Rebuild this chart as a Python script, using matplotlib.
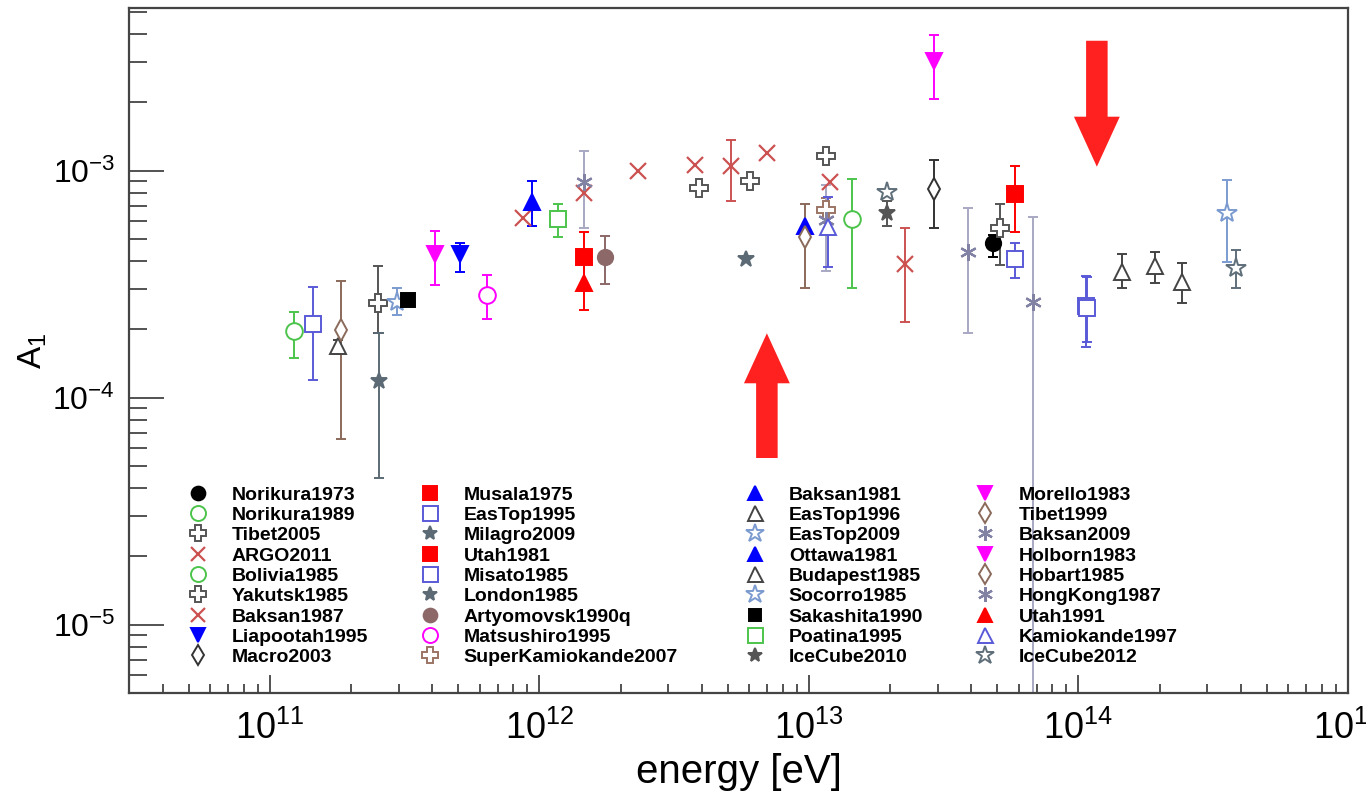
import matplotlib
matplotlib.use('Agg')
import matplotlib.pyplot as plt
from matplotlib.lines import Line2D
from matplotlib.ticker import LogLocator, NullFormatter
import numpy as np

plt.rcParams['font.family'] = ['Liberation Sans', 'DejaVu Sans']
plt.rcParams['mathtext.fontset'] = 'custom'
plt.rcParams['mathtext.rm'] = 'Liberation Sans'
plt.rcParams['mathtext.it'] = 'Liberation Sans:italic'
plt.rcParams['mathtext.bf'] = 'Liberation Sans:bold'
plt.rcParams['mathtext.default'] = 'regular'

nan = float('nan')

# ---- legend entries (column order, 4 columns x 9 rows) ----
legend_names = [
    'Norikura1973', 'Norikura1989', 'Tibet2005', 'ARGO2011', 'Bolivia1985',
    'Yakutsk1985', 'Baksan1987', 'Liapootah1995', 'Macro2003',
    'Musala1975', 'EasTop1995', 'Milagro2009', 'Utah1981', 'Misato1985',
    'London1985', 'Artyomovsk1990q', 'Matsushiro1995', 'SuperKamiokande2007',
    'Baksan1981', 'EasTop1996', 'EasTop2009', 'Ottawa1981', 'Budapest1985',
    'Socorro1985', 'Sakashita1990', 'Poatina1995', 'IceCube2010',
    'Morello1983', 'Tibet1999', 'Baksan2009', 'Holborn1983', 'Hobart1985',
    'HongKong1987', 'Utah1991', 'Kamiokande1997', 'IceCube2012',
]

# ---- data points (energy in eV, A1 amplitude, error-bar ends) ----
pt_set = [
    'Norikura1973', 'Norikura1989',
    'Tibet2005', 'Tibet2005', 'Tibet2005', 'Tibet2005',
    'ARGO2011', 'ARGO2011', 'ARGO2011', 'ARGO2011', 'ARGO2011', 'ARGO2011',
    'Bolivia1985', 'Yakutsk1985', 'Baksan1987', 'Baksan1987',
    'Liapootah1995', 'Macro2003', 'Musala1975', 'EasTop1995', 'EasTop1995',
    'Milagro2009', 'Utah1981', 'Misato1985', 'Misato1985', 'London1985',
    'Artyomovsk1990q', 'Matsushiro1995', 'SuperKamiokande2007',
    'Baksan1981', 'EasTop1996', 'EasTop1996', 'EasTop1996', 'EasTop2009',
    'Ottawa1981', 'Budapest1985', 'Socorro1985', 'Sakashita1990',
    'Poatina1995', 'IceCube2010', 'Morello1983', 'Tibet1999',
    'Baksan2009', 'Baksan2009', 'Baksan2009', 'Holborn1983', 'Hobart1985',
    'HongKong1987', 'Utah1991', 'Kamiokande1997', 'IceCube2012', 'IceCube2012',
]
pt_energy = [
    4.80e13, 1.45e13,
    3.90e12, 6.03e12, 1.16e13, 5.12e13,
    8.71e11, 1.46e12, 2.33e12, 3.77e12, 6.97e12, 1.20e13,
    1.23e11, 2.52e11, 5.12e12, 2.28e13,
    5.07e11, 2.90e13, 1.46e12, 5.82e13, 1.07e14,
    5.82e12, 5.82e13, 1.445e11, 1.08e14, 2.55e11,
    1.75e12, 6.41e11, 1.16e13,
    9.35e11, 1.45e14, 1.93e14, 2.42e14, 3.57e14,
    9.66e12, 1.79e11, 2.97e11, 3.24e11,
    1.17e12, 1.94e13, 2.92e13, 9.66e12,
    1.16e13, 3.88e13, 6.76e13, 4.09e11, 1.84e11,
    1.46e12, 1.46e12, 1.18e13, 1.94e13, 3.85e14,
]
pt_a1 = [
    4.78e-4, 6.11e-4,
    8.39e-4, 8.97e-4, 1.16e-3, 5.56e-4,
    6.19e-4, 8.00e-4, 9.93e-4, 1.06e-3, 1.19e-3, 8.92e-4,
    1.97e-4, 2.60e-4, 1.05e-3, 3.87e-4,
    4.28e-4, 8.33e-4, 4.18e-4, 4.06e-4, 2.52e-4,
    4.06e-4, 7.92e-4, 2.12e-4, 2.48e-4, 1.18e-4,
    4.18e-4, 2.83e-4, 6.70e-4,
    7.28e-4, 3.59e-4, 3.78e-4, 3.24e-4, 6.47e-4,
    5.69e-4, 1.68e-4, 2.63e-4, 2.69e-4,
    6.11e-4, 6.53e-4, 3.05e-3, 5.12e-4,
    6.05e-4, 4.40e-4, 2.65e-4, 4.28e-4, 1.99e-4,
    8.92e-4, 3.19e-4, 5.65e-4, 8.06e-4, 3.73e-4,
]
pt_low = [
    4.18e-4, 3.03e-4,
    nan, nan, nan, 3.84e-4,
    nan, nan, nan, nan, nan, nan,
    1.50e-4, 1.92e-4, 7.36e-4, 2.15e-4,
    3.56e-4, 5.56e-4, 2.98e-4, 3.35e-4, 1.67e-4,
    nan, 5.38e-4, 1.20e-4, 1.75e-4, 4.43e-5,
    3.15e-4, 2.22e-4, 5.90e-4,
    5.69e-4, 3.05e-4, 3.21e-4, 2.60e-4, 3.95e-4,
    nan, 1.55e-4, 2.30e-4, nan,
    5.11e-4, 5.69e-4, 2.06e-3, 3.03e-4,
    3.60e-4, 1.92e-4, 1.0e-6, 3.13e-4, 6.60e-5,
    5.56e-4, 2.43e-4, 3.77e-4, nan, 3.05e-4,
]
pt_high = [
    5.20e-4, 9.16e-4,
    nan, nan, nan, 7.16e-4,
    nan, nan, nan, nan, nan, nan,
    2.39e-4, 3.81e-4, 1.37e-3, 5.60e-4,
    4.78e-4, 1.11e-3, 5.38e-4, 4.78e-4, 3.43e-4,
    nan, 1.05e-3, 3.08e-4, 3.40e-4, 1.92e-4,
    5.16e-4, 3.47e-4, 7.60e-4,
    9.01e-4, 4.28e-4, 4.40e-4, 3.93e-4, 9.06e-4,
    nan, 1.80e-4, 3.03e-4, nan,
    7.16e-4, 7.33e-4, 3.97e-3, 7.16e-4,
    8.60e-4, 6.81e-4, 6.25e-4, 5.41e-4, 3.27e-4,
    1.22e-3, 3.90e-4, 7.66e-4, nan, 4.46e-4,
]

# ---- highlight arrows (energy, A1 of tail and tip) ----
arrow_energy = [6.98e12, 1.17e14]
arrow_tail = [5.42e-5, 3.73e-3]
arrow_tip = [1.92e-4, 1.04e-3]

x_ticks = [1e11, 1e12, 1e13, 1e14, 1e15]
y_ticks = [1e-5, 1e-4, 1e-3]

# ---- styles: marker, colour, filled, size ----
GREEN = '#4cc44c'
GRAYC = '#555555'
REDX = '#cc5252'
BLUE = '#0000ff'
RED = '#ff0000'
BLUEO = '#5a5ad8'
STARG = '#5b6a74'
BROWNC = '#8c6868'
MAG = '#ff00ff'
BROWNP = '#9b7565'
TRIG = '#444444'
LBLUE = '#7b9bd0'
BROWND = '#8a6a5a'
ASTER = '#8282a4'
ASTERE = '#a8a8c4'
ICE12 = '#5f6f7a'
ASTM = (6, 2, 0)

style = {
    'Norikura1973': ('o', '#000000', True, 11),
    'Norikura1989': ('o', GREEN, False, 12),
    'Tibet2005': ('P', GRAYC, False, 13),
    'ARGO2011': ('x', REDX, False, 11),
    'Bolivia1985': ('o', GREEN, False, 12),
    'Yakutsk1985': ('P', GRAYC, False, 13),
    'Baksan1987': ('x', REDX, False, 11),
    'Liapootah1995': ('v', BLUE, True, 11),
    'Macro2003': ('d', '#333333', False, 11),
    'Musala1975': ('s', RED, True, 11),
    'EasTop1995': ('s', BLUEO, False, 12),
    'Milagro2009': ('*', STARG, True, 12),
    'Utah1981': ('s', RED, True, 11),
    'Misato1985': ('s', BLUEO, False, 12),
    'London1985': ('*', STARG, True, 12),
    'Artyomovsk1990q': ('o', BROWNC, True, 11),
    'Matsushiro1995': ('o', MAG, False, 12),
    'SuperKamiokande2007': ('P', BROWNP, False, 13),
    'Baksan1981': ('^', BLUE, True, 11),
    'EasTop1996': ('^', TRIG, False, 12),
    'EasTop2009': ('*', LBLUE, False, 15),
    'Ottawa1981': ('^', BLUE, True, 11),
    'Budapest1985': ('^', TRIG, False, 12),
    'Socorro1985': ('*', LBLUE, False, 15),
    'Sakashita1990': ('s', '#000000', True, 10),
    'Poatina1995': ('s', GREEN, False, 12),
    'IceCube2010': ('*', '#555555', True, 12),
    'Morello1983': ('v', MAG, True, 11),
    'Tibet1999': ('d', BROWND, False, 11),
    'Baksan2009': (ASTM, ASTER, False, 12),
    'Holborn1983': ('v', MAG, True, 11),
    'Hobart1985': ('d', BROWND, False, 11),
    'HongKong1987': (ASTM, ASTER, False, 12),
    'Utah1991': ('^', RED, True, 11),
    'Kamiokande1997': ('^', BLUEO, False, 12),
    'IceCube2012': ('*', ICE12, False, 15),
}
err_color = {'Baksan2009': ASTERE, 'HongKong1987': ASTERE}


def marker_kw(name, scale=1.0):
    m, c, filled, s = style[name]
    kw = dict(marker=m, markersize=s * scale, markeredgecolor=c,
              markerfacecolor=c if filled else 'white', markeredgewidth=1.4)
    if m in ('x', ASTM):
        kw['markerfacecolor'] = 'none'
        kw['markeredgewidth'] = 1.6
    return kw


fig = plt.figure(figsize=(13.66, 7.95), dpi=100)
ax = fig.add_axes([129 / 1366, 1 - 693 / 795, (1348 - 129) / 1366, (693 - 8) / 795])
ax.set_xscale('log')
ax.set_yscale('log')
ax.set_xlim(3e10, 1e15)
ax.set_ylim(5e-6, 5.2e-3)

for i in range(len(pt_set)):
    name = pt_set[i]
    e, a, lo, hi = pt_energy[i], pt_a1[i], pt_low[i], pt_high[i]
    kw = marker_kw(name)
    ecol = err_color.get(name, style[name][1])
    if not np.isnan(lo):
        ax.errorbar([e], [a], yerr=[[a - lo], [hi - a]], fmt='none',
                    ecolor=ecol, elinewidth=1.4, capsize=3.6, capthick=1.4,
                    zorder=2)
    ax.plot([e], [a], linestyle='none', zorder=3, **kw)

# arrows
for e, t0, t1 in zip(arrow_energy, arrow_tail, arrow_tip):
    ax.annotate('', xy=(e, t1), xytext=(e, t0),
                arrowprops=dict(arrowstyle='simple,head_length=36,head_width=33,tail_width=15.5',
                                mutation_scale=1, color='#ff2020', lw=0,
                                shrinkA=0, shrinkB=0), zorder=4)

# axes styling
for sp in ax.spines.values():
    sp.set_color('#444444')
    sp.set_linewidth(1.6)
ax.set_xticks(x_ticks)
ax.set_yticks(y_ticks)
ax.xaxis.set_minor_locator(LogLocator(base=10, subs=np.arange(2, 10)))
ax.yaxis.set_minor_locator(LogLocator(base=10, subs=np.arange(2, 10)))
ax.xaxis.set_minor_formatter(NullFormatter())
ax.yaxis.set_minor_formatter(NullFormatter())
ax.tick_params(axis='y', which='major', direction='in', length=25, width=1.3,
               color='#444444', labelsize=23, pad=10, right=False)
ax.tick_params(axis='y', which='minor', direction='in', length=13, width=1.3,
               color='#444444', right=False)
ax.tick_params(axis='x', which='major', direction='in', length=13, width=1.3,
               color='#444444', labelsize=26, pad=13, top=False)
ax.tick_params(axis='x', which='minor', direction='in', length=6.5, width=1.3,
               color='#444444', top=False)

ax.set_xlabel('energy [eV]', fontsize=29, labelpad=4)
ax.set_ylabel('A$_1$', fontsize=24)
ax.yaxis.set_label_coords(-0.066, 0.5)

# legend: four columns
col_left_px = [188, 420, 745, 975]
top_px = 486
for c in range(4):
    names = legend_names[9 * c: 9 * c + 9]
    handles = [Line2D([], [], linestyle='none', **marker_kw(n, 0.9)) for n in names]
    fig.legend(handles, names, loc='upper left',
               bbox_to_anchor=(col_left_px[c] / 1366, 1 - top_px / 795),
               frameon=False, borderpad=0, borderaxespad=0,
               handlelength=1.0, handletextpad=1.25, labelspacing=0.14,
               prop={'weight': 'bold', 'size': 14, 'family': 'Liberation Sans'})

fig.savefig('out.png', dpi=100)
